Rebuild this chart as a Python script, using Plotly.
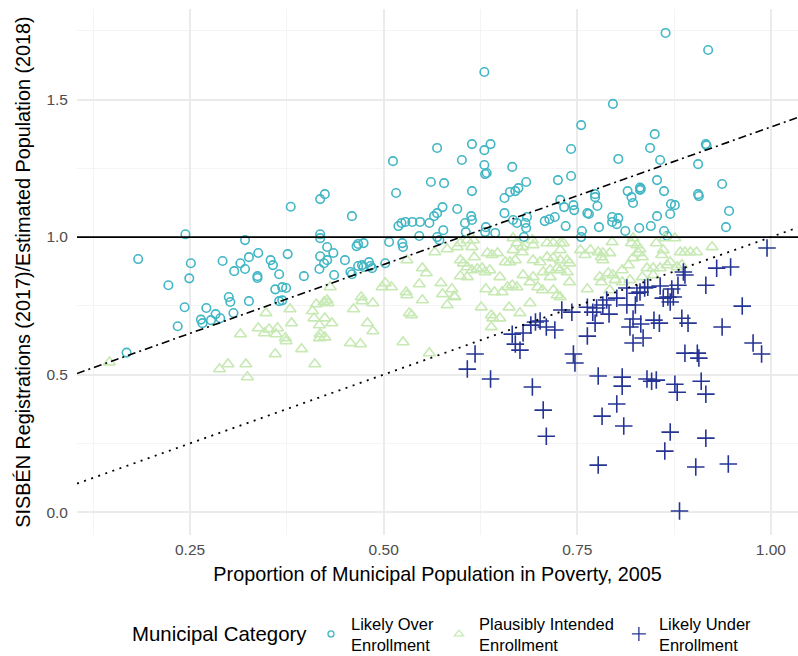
import plotly.graph_objects as go

# Municipal category points: poverty share (x) vs SISBÉN registrations ratio (y)
over_x = [0.168, 0.183, 0.222, 0.244, 0.251, 0.249, 0.243, 0.234, 0.271, 0.264, 0.266, 0.277, 0.283, 0.289,
          0.300, 0.302, 0.306, 0.326, 0.292, 0.307, 0.315, 0.321, 0.326, 0.338, 0.321, 0.337, 0.337, 0.354,
          0.357, 0.365, 0.376, 0.360, 0.369, 0.374, 0.365, 0.369, 0.380, 0.397, 0.418, 0.418, 0.418, 0.418,
          0.417, 0.630, 0.569, 0.614, 0.638, 0.630, 0.601, 0.512, 0.630, 0.631, 0.633, 0.666, 0.561, 0.578,
          0.684, 0.725, 0.516, 0.614, 0.663, 0.670, 0.674, 0.424, 0.864, 0.919, 0.796, 0.755, 0.742, 0.850,
          0.844, 0.803, 0.857, 0.916, 0.917, 0.906, 0.742, 0.937, 0.853, 0.831, 0.832, 0.815, 0.862, 0.773,
          0.906, 0.656, 0.459, 0.519, 0.523, 0.528, 0.537, 0.547, 0.559, 0.565, 0.569, 0.576, 0.595, 0.605,
          0.613, 0.614, 0.606, 0.632, 0.631, 0.644, 0.656, 0.667, 0.672, 0.683, 0.684, 0.685, 0.681, 0.708,
          0.714, 0.721, 0.427, 0.435, 0.427, 0.423, 0.436, 0.450, 0.457, 0.459, 0.465, 0.467, 0.474, 0.467,
          0.472, 0.474, 0.481, 0.483, 0.485, 0.502, 0.507, 0.524, 0.525, 0.546, 0.569, 0.572, 0.577, 0.728,
          0.733, 0.745, 0.746, 0.763, 0.765, 0.776, 0.773, 0.735, 0.755, 0.756, 0.778, 0.795, 0.803, 0.795,
          0.801, 0.812, 0.820, 0.822, 0.831, 0.830, 0.845, 0.853, 0.870, 0.871, 0.876, 0.862, 0.866, 0.907,
          0.946, 0.942]
over_y = [0.580, 0.920, 0.825, 1.010, 0.905, 0.850, 0.745, 0.676, 0.742, 0.700, 0.687, 0.698, 0.720, 0.705,
          0.782, 0.764, 0.724, 0.767, 0.913, 0.876, 0.905, 0.884, 0.927, 0.942, 0.989, 0.858, 0.851, 0.916,
          0.898, 0.865, 0.938, 0.810, 0.818, 0.815, 0.767, 0.770, 1.110, 0.858, 1.138, 1.010, 0.996, 0.930,
          0.884, 1.600, 1.324, 1.338, 1.338, 1.316, 1.280, 1.276, 1.262, 1.229, 1.233, 1.255, 1.200, 1.196,
          1.200, 1.207, 1.160, 1.167, 1.164, 1.167, 1.178, 1.156, 1.742, 1.680, 1.484, 1.407, 1.320, 1.374,
          1.324, 1.284, 1.280, 1.338, 1.333, 1.265, 1.222, 1.193, 1.207, 1.180, 1.175, 1.167, 1.167, 1.156,
          1.156, 1.142, 1.076, 1.040, 1.051, 1.055, 1.055, 1.055, 1.051, 1.076, 1.087, 1.109, 1.102, 1.051,
          1.076, 1.062, 1.018, 1.036, 1.018, 1.015, 1.087, 1.062, 1.051, 1.051, 1.033, 1.073, 1.000, 1.058,
          1.065, 1.073, 0.964, 0.942, 0.916, 0.905, 0.862, 0.916, 0.873, 0.865, 0.967, 0.975, 0.978, 0.895,
          0.898, 0.891, 0.909, 0.895, 0.887, 0.905, 0.982, 0.978, 0.964, 1.004, 1.000, 0.989, 1.025, 1.135,
          1.109, 1.116, 1.098, 1.087, 1.084, 1.113, 1.145, 1.040, 1.000, 1.022, 1.036, 1.073, 1.069, 1.055,
          1.047, 1.022, 1.145, 1.124, 1.171, 1.033, 1.040, 1.076, 1.084, 1.120, 1.116, 1.022, 1.004, 1.149,
          1.095, 1.036]

plaus_x = [0.146, 0.348, 0.379, 0.381, 0.413, 0.408, 0.410, 0.417, 0.315, 0.338, 0.352, 0.363, 0.346, 0.361,
           0.373, 0.374, 0.360, 0.394, 0.417, 0.288, 0.299, 0.322, 0.324, 0.411, 0.431, 0.427, 0.423, 0.428,
           0.424, 0.433, 0.424, 0.418, 0.461, 0.471, 0.472, 0.486, 0.498, 0.502, 0.510, 0.479, 0.486, 0.457,
           0.470, 0.525, 0.533, 0.536, 0.529, 0.530, 0.550, 0.574, 0.576, 0.582, 0.588, 0.591, 0.592, 0.559,
           0.530, 0.550, 0.555, 0.566, 0.582, 0.546, 0.595, 0.599, 0.608, 0.614, 0.616, 0.599, 0.603, 0.608,
           0.617, 0.599, 0.608, 0.614, 0.621, 0.627, 0.631, 0.637, 0.634, 0.640, 0.647, 0.650, 0.632, 0.643,
           0.653, 0.626, 0.639, 0.641, 0.650, 0.639, 0.662, 0.676, 0.689, 0.657, 0.663, 0.670, 0.660, 0.666,
           0.672, 0.680, 0.689, 0.693, 0.699, 0.705, 0.706, 0.667, 0.672, 0.679, 0.692, 0.693, 0.667, 0.679,
           0.693, 0.702, 0.711, 0.719, 0.728, 0.711, 0.719, 0.728, 0.715, 0.724, 0.728, 0.715, 0.719, 0.724,
           0.732, 0.728, 0.754, 0.767, 0.760, 0.777, 0.781, 0.783, 0.792, 0.783, 0.795, 0.820, 0.822, 0.827,
           0.829, 0.831, 0.852, 0.863, 0.876, 0.859, 0.861, 0.883, 0.889, 0.896, 0.904, 0.924, 0.737, 0.740,
           0.737, 0.740, 0.763, 0.728, 0.779, 0.790, 0.796, 0.808, 0.816, 0.822, 0.834, 0.840, 0.848, 0.857,
           0.866, 0.870, 0.799, 0.808, 0.818, 0.834, 0.792, 0.781, 0.879, 0.885, 0.848]
plaus_y = [0.545, 0.724, 0.738, 0.687, 0.756, 0.731, 0.705, 0.680, 0.647, 0.669, 0.665, 0.669, 0.651, 0.647,
           0.633, 0.622, 0.575, 0.593, 0.633, 0.520, 0.538, 0.538, 0.491, 0.538, 0.818, 0.771, 0.764, 0.760,
           0.705, 0.687, 0.636, 0.647, 0.738, 0.782, 0.767, 0.760, 0.818, 0.833, 0.818, 0.687, 0.658, 0.615,
           0.611, 0.618, 0.724, 0.716, 0.800, 0.789, 0.771, 0.833, 0.793, 0.753, 0.811, 0.785, 0.782, 0.578,
           0.916, 0.887, 0.869, 0.945, 0.956, 0.829, 0.964, 0.978, 0.989, 0.964, 0.989, 0.916, 0.905, 0.891,
           0.927, 0.858, 0.855, 0.880, 0.884, 0.887, 0.873, 0.880, 0.942, 0.935, 0.942, 0.855, 0.811, 0.800,
           0.800, 0.745, 0.716, 0.705, 0.705, 0.673, 0.745, 0.724, 0.760, 0.909, 0.909, 0.916, 0.818, 0.825,
           0.818, 0.862, 0.836, 0.855, 0.818, 0.807, 0.873, 0.996, 0.978, 0.964, 0.989, 0.971, 0.953, 0.945,
           0.916, 0.909, 0.927, 0.924, 0.916, 0.978, 0.978, 0.978, 0.880, 0.887, 0.880, 0.855, 0.807, 0.789,
           0.978, 0.953, 0.953, 0.953, 0.935, 0.945, 0.927, 0.942, 0.942, 0.916, 0.982, 0.978, 0.996, 0.971,
           0.942, 0.956, 0.978, 0.996, 0.996, 0.935, 0.953, 0.945, 0.945, 0.945, 0.945, 0.964, 0.916, 0.905,
           0.873, 0.836, 0.811, 0.782, 0.855, 0.869, 0.862, 0.880, 0.898, 0.924, 0.927, 0.887, 0.887, 0.887,
           0.898, 0.909, 0.844, 0.836, 0.844, 0.855, 0.807, 0.836, 0.891, 0.898, 0.862]

under_x = [0.730, 0.666, 0.680, 0.670, 0.676, 0.690, 0.696, 0.702, 0.710, 0.721, 0.618, 0.608, 0.638, 0.692,
           0.706, 0.710, 0.995, 0.930, 0.948, 0.887, 0.889, 0.916, 0.880, 0.872, 0.857, 0.841, 0.837, 0.831,
           0.827, 0.814, 0.861, 0.867, 0.874, 0.870, 0.801, 0.788, 0.783, 0.775, 0.814, 0.825, 0.763, 0.743,
           0.770, 0.791, 0.963, 0.773, 0.822, 0.818, 0.832, 0.849, 0.856, 0.885, 0.893, 0.937, 0.763, 0.835,
           0.822, 0.977, 0.745, 0.747, 0.889, 0.905, 0.907, 0.988, 0.777, 0.808, 0.808, 0.840, 0.846, 0.852,
           0.876, 0.879, 0.910, 0.916, 0.801, 0.782, 0.810, 0.870, 0.916, 0.863, 0.777, 0.903, 0.945, 0.882]
under_y = [0.735, 0.647, 0.651, 0.611, 0.589, 0.680, 0.691, 0.695, 0.673, 0.662, 0.575, 0.520, 0.484, 0.455,
           0.371, 0.276, 0.960, 0.887, 0.891, 0.873, 0.862, 0.825, 0.825, 0.811, 0.822, 0.818, 0.815, 0.800,
           0.796, 0.815, 0.778, 0.782, 0.782, 0.764, 0.778, 0.771, 0.753, 0.742, 0.753, 0.753, 0.745, 0.727,
           0.727, 0.720, 0.749, 0.687, 0.702, 0.673, 0.684, 0.698, 0.687, 0.705, 0.687, 0.673, 0.640, 0.633,
           0.615, 0.615, 0.575, 0.542, 0.578, 0.578, 0.560, 0.575, 0.495, 0.491, 0.458, 0.484, 0.476, 0.480,
           0.465, 0.436, 0.476, 0.429, 0.393, 0.349, 0.313, 0.291, 0.269, 0.222, 0.171, 0.164, 0.175, 0.004]

categories = ["Likely Over<br>Enrollment", "Plausibly Intended<br>Enrollment", "Likely Under<br>Enrollment"]
colors = ["#41B6C4", "#C7E9B4", "#253494"]
symbols = ["circle-open", "triangle-up-open", "cross-thin-open"]
point_sizes = [8.5, 10.5, 12.5]
key_sizes = [6, 8, 10]
legend_title = "Municipal Category"

# Reference lines: parity at 1, y = x + 0.4 (dot-dash), y = x (dotted)
ref_level = 1.0
upper_intercept = 0.4
lower_intercept = 0.0

x_range = [0.104, 1.035]
y_range = [-0.083, 1.829]

FONT = "Liberation Sans, Arial, sans-serif"

fig = go.Figure()

series = [(over_x, over_y), (plaus_x, plaus_y), (under_x, under_y)]
for (xs, ys), name, col, sym, sz in zip(series, categories, colors, symbols, point_sizes):
    fig.add_trace(go.Scatter(
        x=xs, y=ys, mode="markers", name=name, showlegend=False, legendgroup=name,
        marker=dict(symbol=sym, size=sz, color=col, line=dict(width=1.6, color=col)),
    ))

fig.add_trace(go.Scatter(
    x=x_range, y=[ref_level, ref_level], mode="lines", showlegend=False, hoverinfo="skip",
    line=dict(color="black", width=1.8),
))
fig.add_trace(go.Scatter(
    x=x_range, y=[v + upper_intercept for v in x_range], mode="lines", showlegend=False, hoverinfo="skip",
    line=dict(color="black", width=1.6, dash="8px,4px,2px,4px"),
))
fig.add_trace(go.Scatter(
    x=x_range, y=[v + lower_intercept for v in x_range], mode="lines", showlegend=False, hoverinfo="skip",
    line=dict(color="black", width=1.8, dash="2px,5.5px"),
))

# Legend keys drawn with smaller symbols
for name, col, sym, sz in zip(categories, colors, symbols, key_sizes):
    fig.add_trace(go.Scatter(
        x=[None], y=[None], mode="markers", name=name, legendgroup=name,
        marker=dict(symbol=sym, size=sz, color=col, line=dict(width=1.3, color=col)),
    ))

# Legend heading, centred on the two-line key labels
fig.add_annotation(
    text=legend_title, xref="paper", yref="paper", x=0.0735, y=-0.188,
    xanchor="left", yanchor="middle", showarrow=False,
    font=dict(size=20.4, family=FONT, color="black"),
)

fig.update_layout(
    width=798, height=656,
    margin=dict(l=77, r=0, t=9, b=121),
    paper_bgcolor="white", plot_bgcolor="white",
    font=dict(family=FONT, color="black"),
    xaxis=dict(
        range=x_range, tickvals=[0.25, 0.5, 0.75, 1.0], ticktext=["0.25", "0.50", "0.75", "1.00"],
        showgrid=True, gridcolor="#EBEBEB", gridwidth=1.6, zeroline=False, showline=False,
        tickfont=dict(size=15.5, color="#4D4D4D", family=FONT), ticklabelstandoff=3,
        minor=dict(tickvals=[0.125, 0.375, 0.625, 0.875], showgrid=True, gridcolor="#F4F4F4", gridwidth=0.9),
        title=dict(text="Proportion of Municipal Population in Poverty, 2005", font=dict(size=19.8, family=FONT),
                   standoff=10),
        automargin=False, ticks="",
    ),
    yaxis=dict(
        range=y_range, tickvals=[0.0, 0.5, 1.0, 1.5], ticktext=["0.0", "0.5", "1.0", "1.5"],
        showgrid=True, gridcolor="#EBEBEB", gridwidth=1.6, zeroline=False, showline=False,
        tickfont=dict(size=15.5, color="#4D4D4D", family=FONT), ticklabelstandoff=8,
        minor=dict(tickvals=[0.25, 0.75, 1.25, 1.75], showgrid=True, gridcolor="#F4F4F4", gridwidth=0.9),
        title=dict(text="SISBÉN Registrations (2017)/Estimated Population (2018)", font=dict(size=19.8, family=FONT),
                   standoff=10),
        automargin=False, ticks="",
    ),
    legend=dict(
        orientation="h", xref="container", x=311 / 798, xanchor="left",
        yref="container", y=1 - 634 / 656, yanchor="middle",
        font=dict(size=16.5, family=FONT), itemwidth=30, bgcolor="rgba(0,0,0,0)",
    ),
)

fig.write_html("out.html")
